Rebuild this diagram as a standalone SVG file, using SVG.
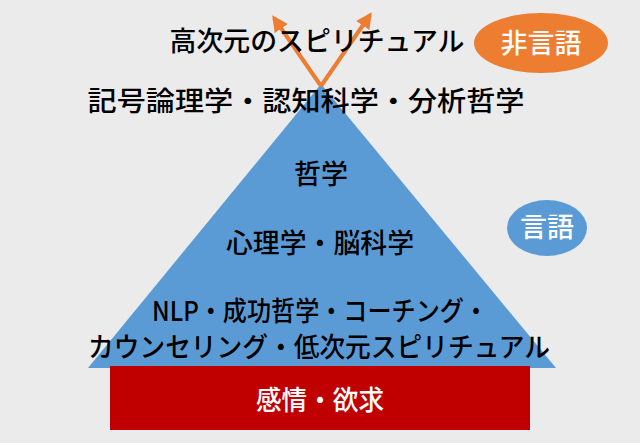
<svg xmlns="http://www.w3.org/2000/svg" width="640" height="443" viewBox="0 0 640 443">
<defs><marker id="ah" viewBox="0 0 10 10" refX="8" refY="5" markerWidth="4" markerHeight="4" orient="auto"><path d="M0,0L10,5L0,10z" fill="#ed7d31"/></marker></defs>
<style>text{font-family:"Noto Sans CJK JP",sans-serif;font-size:27px;font-weight:500;fill:#000;text-anchor:middle}</style>
<rect width="640" height="443" fill="#ebebeb"/>
<g id="pyramid"><polygon points="321,84 88,368 556,368" fill="#5b9bd5"/></g>
<g id="base"><rect x="110" y="366" width="420" height="64" fill="#c00000"/><text x="320" y="410" textLength="128" lengthAdjust="spacingAndGlyphs" style="fill:#fff">感情・欲求</text></g>
<g id="connectors" stroke="#ed7d31" stroke-width="4" fill="none"><line x1="321" y1="86" x2="274" y2="18" marker-end="url(#ah)"/><line x1="321" y1="86" x2="370" y2="15" marker-end="url(#ah)"/></g>
<g id="t1"><text x="317" y="51" textLength="295" lengthAdjust="spacingAndGlyphs">高次元のスピリチュアル</text></g>
<g id="nongen"><ellipse cx="541" cy="43" rx="67" ry="30" fill="#ed7d31"/><text x="541" y="53" style="fill:#fff">非言語</text></g>
<g id="t2"><text x="306" y="111" textLength="437" lengthAdjust="spacingAndGlyphs">記号論理学・認知科学・分析哲学</text></g>
<g id="t3"><text x="321" y="184">哲学</text></g>
<g id="t4"><text x="320" y="253" textLength="188" lengthAdjust="spacingAndGlyphs">心理学・脳科学</text></g>
<g id="gengo"><ellipse cx="547" cy="228" rx="40" ry="28" fill="#5b9bd5"/><text x="547" y="237" style="fill:#fff">言語</text></g>
<g id="t5"><text x="320" y="321" textLength="336" lengthAdjust="spacingAndGlyphs">NLP・成功哲学・コーチング・</text><text x="319" y="357" textLength="462" lengthAdjust="spacingAndGlyphs">カウンセリング・低次元スピリチュアル</text></g>
</svg>
